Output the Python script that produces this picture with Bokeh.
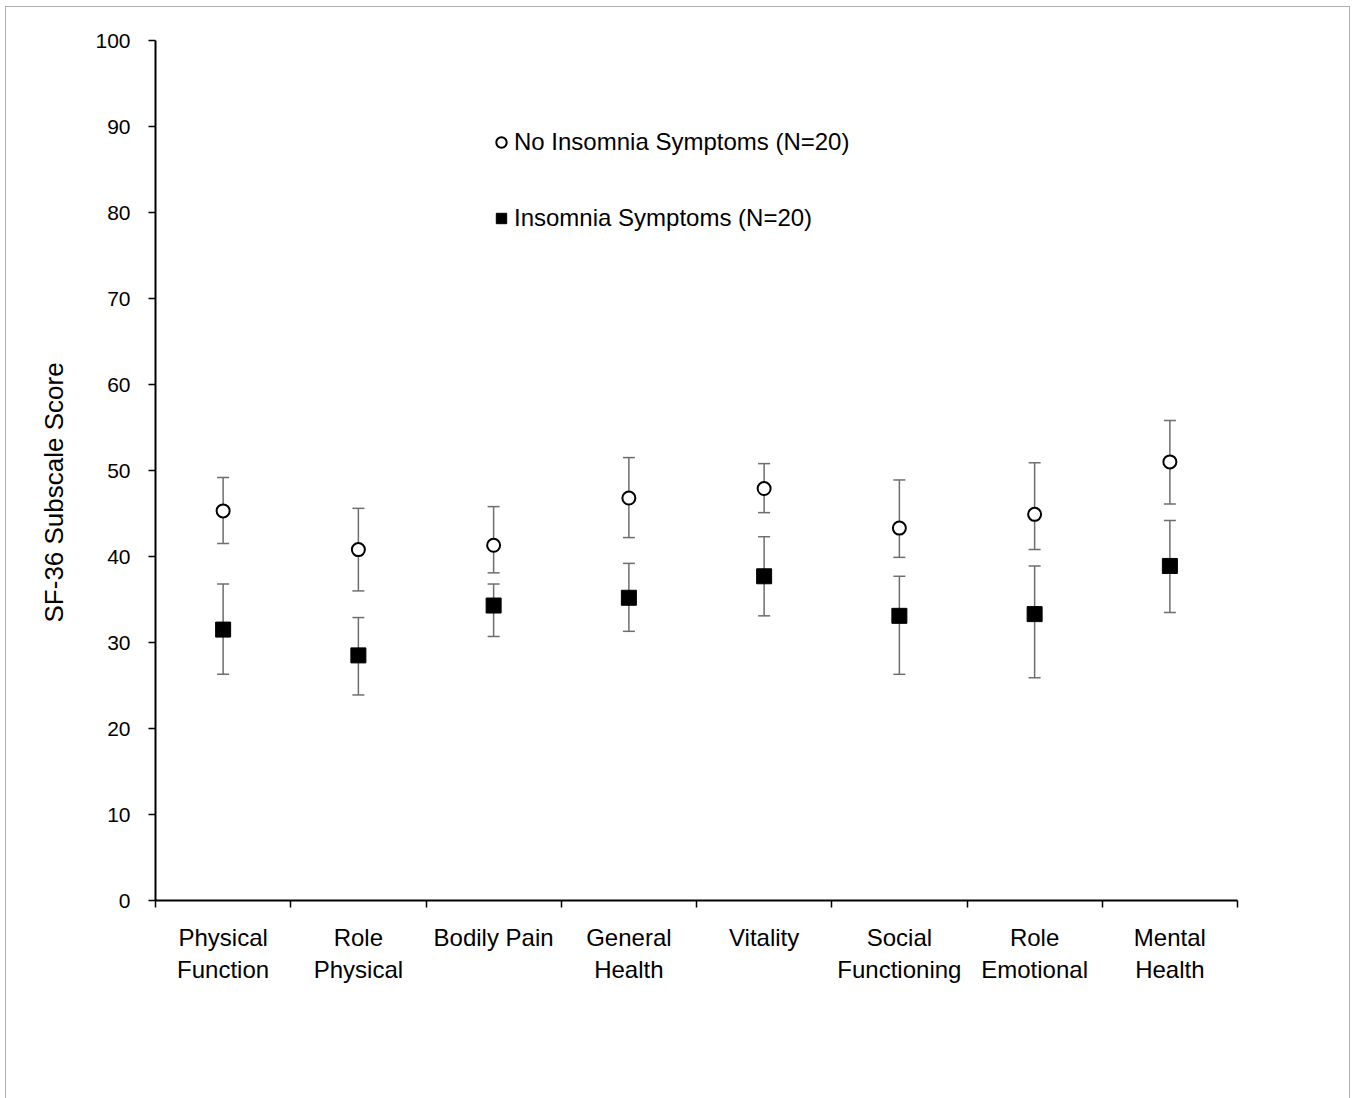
from bokeh.plotting import figure
from bokeh.models import (ColumnDataSource, Range1d, FixedTicker, Whisker, TeeHead,
                          Legend, LegendItem, Title)
from bokeh.embed import file_html
from bokeh.resources import INLINE

categories = ["Physical Function", "Role Physical", "Bodily Pain", "General Health",
              "Vitality", "Social Functioning", "Role Emotional", "Mental Health"]
tick_labels = ["Physical\nFunction", "Role\nPhysical", "Bodily Pain", "General\nHealth",
               "Vitality", "Social\nFunctioning", "Role\nEmotional", "Mental\nHealth"]

no_insomnia_mean = [45.3, 40.8, 41.3, 46.8, 47.9, 43.3, 44.9, 51.0]
no_insomnia_upper = [49.2, 45.6, 45.8, 51.5, 50.8, 48.9, 50.9, 55.8]
no_insomnia_lower = [41.5, 36.0, 38.1, 42.2, 45.1, 39.9, 40.8, 46.1]

insomnia_mean = [31.5, 28.5, 34.3, 35.2, 37.7, 33.1, 33.3, 38.9]
insomnia_upper = [36.8, 32.9, 36.8, 39.2, 42.3, 37.7, 38.9, 44.2]
insomnia_lower = [26.3, 23.9, 30.7, 31.3, 33.1, 26.3, 25.9, 33.5]

y_ticks = [0, 10, 20, 30, 40, 50, 60, 70, 80, 90, 100]

xs = list(range(1, len(categories) + 1))
FONT = "Liberation Sans"

p = figure(width=1343, height=1100, output_backend="svg", toolbar_location=None,
           x_range=Range1d(0.5, len(categories) + 0.5), y_range=Range1d(0, 100),
           min_border_left=149, min_border_right=112, min_border_top=33,
           min_border_bottom=207)
p.styles = {"outline": "1px solid #b0b0b0", "margin-left": "6px", "margin-top": "7px"}
p.outline_line_color = None
p.xgrid.visible = False
p.ygrid.visible = False
p.background_fill_color = "white"
p.border_fill_color = "white"

# y axis
ya = p.yaxis[0]
ya.ticker = FixedTicker(ticks=y_ticks)
ya.minor_tick_line_color = None
ya.major_tick_in = 0
ya.major_tick_out = 7
ya.major_tick_line_width = 1.5
ya.axis_line_width = 2
ya.major_label_text_font = FONT
ya.major_label_text_font_size = "21px"
ya.major_label_text_color = "black"
ya.major_label_standoff = 18

# y axis title as a left-side title, starting a little above the frame bottom
p.add_layout(Title(text="SF-36 Subscale Score", align="left", offset=278, standoff=47,
                   text_font=FONT, text_font_size="26px", text_font_style="normal",
                   text_color="black"), "left")

# x axis
xa = p.xaxis[0]
xa.ticker = FixedTicker(ticks=xs, minor_ticks=[x - 0.5 for x in xs] + [xs[-1] + 0.5])
xa.major_label_overrides = {x: lab for x, lab in zip(xs, tick_labels)}
xa.major_tick_in = 0
xa.major_tick_out = 0
xa.minor_tick_in = 0
xa.minor_tick_out = 7
xa.minor_tick_line_color = "black"
xa.minor_tick_line_width = 1.5
xa.axis_line_width = 2
xa.major_label_text_font = FONT
xa.major_label_text_font_size = "24px"
xa.major_label_text_color = "black"
xa.major_label_standoff = 16

src_no = ColumnDataSource(dict(x=xs, y=no_insomnia_mean, up=no_insomnia_upper, lo=no_insomnia_lower))
src_in = ColumnDataSource(dict(x=xs, y=insomnia_mean, up=insomnia_upper, lo=insomnia_lower))

for src in (src_no, src_in):
    w = Whisker(source=src, base="x", upper="up", lower="lo", dimension="height",
                line_color="#6e6e6e", line_width=1.5, level="underlay",
                upper_head=TeeHead(size=12, line_color="#6e6e6e", line_width=1.5),
                lower_head=TeeHead(size=12, line_color="#6e6e6e", line_width=1.5))
    p.add_layout(w)

r_no = p.scatter("x", "y", source=src_no, marker="circle", size=13,
                 fill_color="white", line_color="black", line_width=2)
r_in = p.scatter("x", "y", source=src_in, marker="square", size=15,
                 fill_color="black", line_color="black", line_width=1)

legend = Legend(items=[LegendItem(label="No Insomnia Symptoms (N=20)", renderers=[r_no]),
                       LegendItem(label="Insomnia Symptoms (N=20)", renderers=[r_in])],
                location=(333, 668), orientation="vertical",
                glyph_width=26, glyph_height=28, label_height=28, label_standoff=0,
                spacing=48, padding=0, margin=0,
                border_line_color=None, background_fill_alpha=0,
                label_text_font=FONT, label_text_font_size="24px", label_text_color="black")
p.add_layout(legend, "center")

open("out.html", "w").write(file_html(p, INLINE))
